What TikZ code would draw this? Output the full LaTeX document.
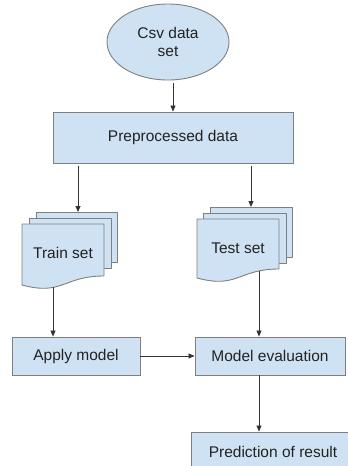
\documentclass[tikz,border=0pt]{standalone}
\usepackage{fontspec}
\setmainfont{Liberation Sans}
\usetikzlibrary{arrows.meta,shapes.geometric,calc}
\definecolor{boxfill}{HTML}{CFE2F3}
\definecolor{boxline}{HTML}{7F7F7F}
\definecolor{arrowline}{HTML}{333333}
\definecolor{textcol}{HTML}{222222}

\begin{document}
\begin{tikzpicture}[x=1pt,y=-1pt,
  every node/.style={font=\fontsize{15.5}{18}\selectfont, text=textcol},
  box/.style={draw=boxline, fill=boxfill, line width=0.9pt, inner sep=0pt},
  page/.style={draw=boxline, fill=boxfill, line width=0.9pt, line join=round},
  arr/.style={draw=arrowline, line width=0.8pt, -{Triangle[length=6pt,width=5pt]}}]

\useasboundingbox (0,0) rectangle (348,466);
\clip (0,0) rectangle (348,466);

% source and preprocessing
\node[box, ellipse, minimum width=122pt, minimum height=76pt, align=center] (csv) at (168,42) {Csv data\\set};
\node[box, minimum width=240pt, minimum height=51pt] (pre) at (173,137.5) {Preprocessed data};

% training documents stack
\draw[page] (36,212) rectangle (117,262);
\draw[page] (29,218) rectangle (111,268);
\draw[page] (22,224) -- (104,224) -- (104,276) .. controls (63,276) and (63,296) .. (22,285) -- cycle;
\node (train) at (63,253) {Train set};

% test documents stack
\draw[page] (210,207) rectangle (292,257);
\draw[page] (203,213) rectangle (286,263);
\draw[page] (197,219) -- (279,219) -- (279,269) .. controls (238,269) and (238,289) .. (197,278) -- cycle;
\node (test) at (238,248) {Test set};

% model boxes
\node[box, minimum width=128pt, minimum height=38pt] (apply) at (76,356) {Apply model};
\node[box, minimum width=150pt, minimum height=38pt] (meval) at (270,356) {Model evaluation};
\node[box, minimum width=164pt, minimum height=40pt] (pred) at (273,452) {Prediction of result};

% connector end points on the stacks
\coordinate (trainin) at (78,212);
\coordinate (testin) at (251,207);
\coordinate (trainout) at (53,287);
\coordinate (testout) at (259,271);

% connectors
\draw[arr, shorten <=3pt] (csv.south -| pre.north) -- (pre.north);
\draw[arr, shorten <=3pt] (pre.south -| trainin) -- (trainin);
\draw[arr, shorten <=3pt] (pre.south -| testin) -- (testin);
\draw[arr] (trainout) -- (trainout |- apply.north);
\draw[arr] (testout) -- (testout |- meval.north);
\draw[arr] (apply.east) -- (meval.west);
\draw[arr] (meval.south -| testout) -- (testout |- pred.north);
\end{tikzpicture}
\end{document}
